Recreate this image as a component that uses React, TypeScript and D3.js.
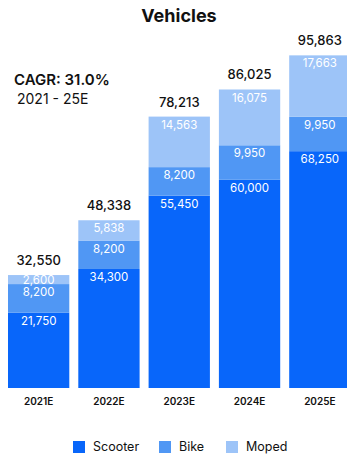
import React from "react";
import * as d3 from "d3";

const categories = ["2021E", "2022E", "2023E", "2024E", "2025E"];
const seriesNames = ["Scooter", "Bike", "Moped"];
const scooter = [21750, 34300, 55450, 60000, 68250];
const bike = [8200, 8200, 8200, 9950, 9950];
const moped = [2600, 5838, 14563, 16075, 17663];
const totals = [32550, 48338, 78213, 86025, 95863];
const colors = ["#0866FA", "#5097F4", "#9DC4F8"];

const W = 347;
const H = 460;
const FONT = "Inter, 'Noto Sans', sans-serif";

export default function App() {
  const rows = categories.map((c, i) => ({
    cat: c,
    Scooter: scooter[i],
    Bike: bike[i],
    Moped: moped[i],
  }));
  const stack = d3.stack<any>().keys(seriesNames)(rows);
  const x = d3
    .scaleBand<string>()
    .domain(categories)
    .range([8, 350.5])
    .paddingInner(0.128)
    .paddingOuter(0);
  const y = d3.scaleLinear().domain([0, 100000]).range([388, 41]);
  const fmt = d3.format(",");

  const legendX = [73, 159, 226];

  return (
    <svg
      width={W}
      height={H}
      style={{ position: "absolute", left: 0, top: 0, background: "#fff" }}
      fontFamily={FONT}
    >
      <text x={179} y={22} textAnchor="middle" fontSize={18} fontWeight={700} fill="#111">
        Vehicles
      </text>
      <text x={14} y={85} fontSize={15} fontWeight={600} fill="#111">
        CAGR: 31.0%
      </text>
      <text x={17} y={104} fontSize={14} fontWeight={400} fill="#111">
        2021 - 25E
      </text>
      {stack.map((s, si) => (
        <g key={s.key}>
          {s.map((d, i) => {
            const x0 = x(categories[i])!;
            const top = y(d[1]);
            const bot = y(d[0]);
            return (
              <rect key={i} x={x0} y={top} width={x.bandwidth()} height={bot - top} fill={colors[si]} />
            );
          })}
        </g>
      ))}
      {stack.map((s, si) => (
        <g key={"l" + s.key}>
          {s.map((d, i) => {
            const cx = x(categories[i])! + x.bandwidth() / 2;
            const top = y(d[1]);
            const bot = y(d[0]);
            const cy = Math.min(top + 8, (top + bot) / 2);
            return (
              <text
                key={i}
                x={cx}
                y={cy}
                dy="0.35em"
                textAnchor="middle"
                fontSize={11.5}
                fill="#fff"
              >
                {fmt(d[1] - d[0])}
              </text>
            );
          })}
        </g>
      ))}
      {totals.map((t, i) => (
        <text
          key={"t" + i}
          x={x(categories[i])! + x.bandwidth() / 2}
          y={y(t) - 10}
          textAnchor="middle"
          fontSize={13}
          fontWeight={500}
          fill="#111"
        >
          {fmt(t)}
        </text>
      ))}
      {categories.map((c) => (
        <text
          key={c}
          x={x(c)! + x.bandwidth() / 2}
          y={405}
          textAnchor="middle"
          fontSize={10}
          fontWeight={600}
          fill="#111"
        >
          {c}
        </text>
      ))}
      {seriesNames.map((n, i) => (
        <g key={n} transform={`translate(${legendX[i]},441)`}>
          <rect width={12} height={12} fill={colors[i]} />
          <text x={20} y={6} dy="0.35em" fontSize={12.5} fill="#111">
            {n}
          </text>
        </g>
      ))}
    </svg>
  );
}
